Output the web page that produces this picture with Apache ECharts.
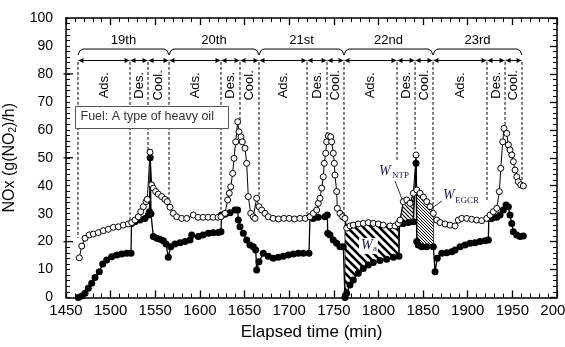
<!DOCTYPE html>
<html><head><meta charset="utf-8">
<script src="https://cdn.jsdelivr.net/npm/echarts@6/dist/echarts.min.js"></script>
<style>html,body{margin:0;padding:0;background:#fff}#c{width:565px;height:347px}</style>
</head><body><div id="c"></div>
<script>
// ---- data ----
const xTickValues = [1450,1500,1550,1600,1650,1700,1750,1800,1850,1900,1950,2000];
const xTickLabels = ['1450','1500','1550','1600','1650','1700','1750','1800','1850','1900','1950','2000'];
const yTickValues = [0,10,20,30,40,50,60,70,80,90,100];
const cycleNames = ['19th','20th','21st','22nd','23rd'];
const phaseNames = ['Ads.','Des.','Cool.'];
// phase boundaries (min)
const phaseBounds = [1463.4,1521.7,1541.9,1565.4,1623.6,1644.9,1666.2,1720.0,1742.4,1761.4,1820.8,1841.0,1861.1,1921.6,1941.8,1960.8];
// where each dashed boundary line ends (NOx value)
const dashEnds = [21.3,27,52,35,30,62,35.6,30,57,29.5,49,53,31.3,34.3,60.6,41];
// hatched areas [from, to] (min)
const hatchRanges = [[1762.5,1823.0],[1823.6,1839.1],[1842.9,1861.5]];
const leftMajorTicks = [20,50,80];

// open circles series  [time, NOx]
const openSeries = [
[1464.9,14.2],[1467.6,18.4],[1471.3,21.2],[1476.1,22.4],[1480.6,22.7],[1486.2,23.2],[1491.8,23.9],[1497.4,24.4],[1503.0,25.1],[1508.6,25.3],[1514.2,25.9],[1519.8,26.3],[1523.6,26.8],[1527.3,27.7],[1531.0,28.9],[1533.7,30.7],[1536.6,32.5],[1539.6,34.3],[1541.1,35.1],[1544.1,52.0],[1546.0,40.3],[1547.8,39.1],[1550.5,37.9],[1553.4,37.0],[1557.2,36.1],[1560.9,35.1],[1563.5,34.3],[1566.5,32.3],[1570.2,30.1],[1574.0,28.9],[1579.6,28.3],[1585.2,28.3],[1592.6,29.5],[1597.9,28.7],[1603.5,28.7],[1609.1,28.7],[1614.7,28.7],[1620.3,28.7],[1623.6,28.9],[1628.1,30.1],[1631.1,34.9],[1632.9,37.3],[1634.5,39.6],[1636.7,44.4],[1638.2,49.8],[1640.1,55.7],[1642.3,62.9],[1643.8,59.3],[1646.0,57.5],[1647.5,55.7],[1650.5,53.4],[1652.4,48.0],[1654.2,36.1],[1656.9,30.1],[1659.8,28.9],[1661.7,28.3],[1663.6,35.5],[1666.2,32.5],[1669.2,31.3],[1672.9,30.1],[1676.6,28.9],[1682.0,28.3],[1688.0,28.1],[1694.0,28.3],[1700.0,28.3],[1706.0,28.1],[1712.0,28.3],[1718.0,28.3],[1723.3,28.9],[1727.0,30.1],[1730.8,31.3],[1732.6,33.7],[1734.5,35.5],[1736.4,39.1],[1738.2,43.2],[1739.3,48.0],[1740.9,51.6],[1742.0,55.7],[1743.8,57.8],[1746.5,57.5],[1747.6,55.7],[1749.4,51.6],[1750.6,48.0],[1751.3,43.8],[1753.2,37.9],[1753.9,31.9],[1756.9,30.1],[1759.9,28.9],[1762.5,28.3],[1764.4,24.8],[1768.1,25.6],[1771.8,25.9],[1777.4,26.3],[1783.0,26.5],[1788.6,26.8],[1794.2,26.5],[1799.8,26.3],[1805.4,25.9],[1812.9,25.6],[1818.5,25.6],[1822.2,26.5],[1824.2,27.7],[1827.8,34.3],[1831.7,34.9],[1835.4,33.7],[1839.1,37.3],[1842.1,51.0],[1842.9,38.5],[1846.6,37.3],[1850.3,35.9],[1854.1,34.3],[1857.8,32.5],[1861.5,30.1],[1865.3,27.7],[1869.0,26.8],[1874.6,26.3],[1880.2,25.9],[1885.8,25.6],[1889.5,27.7],[1893.3,28.3],[1898.9,28.3],[1904.5,28.0],[1910.1,27.7],[1915.7,27.5],[1921.3,28.3],[1925.0,29.5],[1928.7,30.7],[1932.5,31.9],[1935.4,37.9],[1937.0,46.2],[1939.2,55.7],[1940.6,60.5],[1943.7,58.7],[1945.5,54.6],[1947.4,52.8],[1949.3,51.0],[1951.1,48.6],[1953.0,45.6],[1954.9,43.2],[1956.7,41.4],[1959.4,40.3],[1962.3,39.9]
];
// filled circles series [time, NOx]
const filledSeries = [
[1463.8,0],[1467.6,0.5],[1471.3,1.5],[1475.0,3.3],[1478.8,5.1],[1482.5,7.2],[1487.3,9.2],[1491.1,12.0],[1495.6,13.4],[1501.2,14.6],[1506.8,15.2],[1512.4,15.6],[1518.0,15.8],[1522.8,15.8],[1523.4,26.5],[1527.3,27.1],[1532.9,27.7],[1538.5,28.3],[1542.2,29.5],[1543.5,30.7],[1544.3,50.0],[1545.2,30.0],[1547.8,21.8],[1551.6,21.2],[1555.3,20.8],[1559.0,20.3],[1562.0,19.1],[1564.6,14.4],[1567.3,18.2],[1572.1,19.1],[1577.7,19.6],[1583.3,20.0],[1588.9,20.6],[1590.8,22.4],[1598.2,21.8],[1603.5,22.4],[1609.4,23.0],[1615.0,23.2],[1620.6,23.3],[1623.6,23.5],[1624.2,29.5],[1628.1,29.8],[1633.7,30.3],[1639.3,31.3],[1642.3,31.3],[1643.0,27.7],[1644.9,25.3],[1648.6,23.0],[1652.4,20.6],[1656.1,18.8],[1659.8,18.2],[1662.5,17.0],[1663.6,9.8],[1666.2,12.8],[1671.0,15.8],[1676.6,14.8],[1682.2,14.0],[1687.8,14.4],[1693.4,14.8],[1699.0,15.2],[1704.6,15.6],[1710.2,15.8],[1715.8,15.8],[1722.2,15.8],[1723.3,28.9],[1727.0,28.3],[1732.6,28.7],[1740.1,28.9],[1742.7,29.5],[1743.2,23.0],[1745.7,22.4],[1749.4,20.6],[1753.2,19.4],[1756.9,18.2],[1760.6,18.2],[1762.5,0],[1764.4,1.5],[1768.1,4.5],[1771.8,6.3],[1777.4,8.7],[1783.0,10.4],[1788.6,11.6],[1794.2,12.5],[1801.7,13.2],[1809.2,13.7],[1816.7,14.4],[1823.0,14.8],[1823.6,26.5],[1827.8,26.5],[1833.5,26.8],[1839.1,27.1],[1842.1,48.0],[1842.9,20.0],[1844.6,18.8],[1848.4,18.2],[1854.1,18.2],[1861.5,18.2],[1863.4,9.2],[1865.9,14.0],[1870.9,15.8],[1876.5,16.0],[1882.1,16.4],[1885.8,17.0],[1891.4,18.2],[1897.0,18.8],[1902.6,19.4],[1908.2,19.6],[1913.8,20.0],[1919.4,20.3],[1923.1,20.6],[1923.6,28.3],[1926.9,28.3],[1932.5,28.7],[1936.2,29.5],[1939.9,31.3],[1942.9,33.1],[1945.5,32.5],[1947.4,29.5],[1949.3,26.5],[1951.1,23.5],[1954.9,22.4],[1958.6,21.8],[1962.3,22.0]
];

// ---- helpers ----
function makeHatch(s, w) {
  const c = document.createElement('canvas');
  c.width = s; c.height = s;
  const g = c.getContext('2d');
  g.strokeStyle = '#000'; g.lineWidth = w; g.lineCap = 'square';
  g.beginPath();
  for (let k = -1; k <= 1; k++) { g.moveTo(0, k * s); g.lineTo(s, s + k * s); }
  g.stroke();
  return c;
}
const hatchStyles = [makeHatch(8, 2.6), makeHatch(4, 1.1), makeHatch(3, 1)];

const FONT = '"Liberation Sans", Arial, sans-serif';
const SERIF = '"Liberation Serif", "Times New Roman", serif';

const chart = echarts.init(document.getElementById('c'), null, {renderer: 'canvas'});

function axisCommon(extra) {
  return Object.assign({
    type: 'value',
    axisLine: {show: true, onZero: false, lineStyle: {color: '#000', width: 1.5}},
    axisTick: {show: true, inside: true, length: 7, lineStyle: {color: '#000', width: 1.3}},
    minorTick: {show: true, splitNumber: 5, length: 4, lineStyle: {color: '#000', width: 1}},
    splitLine: {show: false},
    minorSplitLine: {show: false}
  }, extra);
}

const option = {
  animation: false,
  backgroundColor: '#fff',
  grid: {left: 66, right: 8, top: 18, bottom: 49.5, containLabel: false, outerBoundsMode: 'none'},
  xAxis: [
    axisCommon({
      min: xTickValues[0], max: xTickValues[xTickValues.length - 1], interval: 50, position: 'bottom',
      axisLabel: {color: '#000', fontSize: 15, fontFamily: FONT, margin: 6, showMinLabel: true, showMaxLabel: true,
        alignMinLabel: 'center', alignMaxLabel: 'center', hideOverlap: false,
        formatter: v => { const i = xTickValues.indexOf(v); return i >= 0 ? xTickLabels[i] : ''; }},
      name: 'Elapsed time (min)', nameLocation: 'middle', nameGap: 24,
      nameTextStyle: {color: '#000', fontSize: 17, fontFamily: FONT}
    }),
    axisCommon({
      min: xTickValues[0], max: xTickValues[xTickValues.length - 1], interval: 50, position: 'top',
      axisLabel: {show: false}
    })
  ],
  yAxis: [
    axisCommon({
      min: yTickValues[0], max: yTickValues[yTickValues.length - 1], interval: 10, position: 'left',
      axisTick: {show: true, inside: true, length: 4, lineStyle: {color: '#000', width: 1}},
      axisLabel: {color: '#000', fontSize: 14, fontFamily: FONT, margin: 13,
        formatter: v => String(v)},
      name: 'NOx (g(NO{s|2})/h)', nameLocation: 'middle', nameGap: 36,
      nameTextStyle: {color: '#000', fontSize: 16, fontFamily: FONT,
        rich: {s: {fontSize: 10, fontFamily: FONT, color: '#000', verticalAlign: 'bottom', padding: [8, 0, 0, 0]}}}
    }),
    axisCommon({
      min: yTickValues[0], max: yTickValues[yTickValues.length - 1], interval: 10, position: 'right',
      axisLabel: {show: false}
    })
  ],
  graphic: [
    {type: 'rect', left: 75, top: 106, z: 100, shape: {width: 153, height: 22},
      style: {fill: '#fff', stroke: '#555', lineWidth: 1}},
    {type: 'text', left: 80.5, top: 110.5, z: 101,
      style: {text: 'Fuel: A type of heavy oil', font: '12.5px ' + FONT, fill: '#333'}},
    // W labels
    {type: 'rect', left: 359, top: 238, z: 100, shape: {width: 19, height: 16}, style: {fill: '#fff'}},
    {type: 'text', left: 361, top: 238, z: 101, style: {text: 'W', font: 'italic 14px ' + SERIF, fill: '#1a1a40'}},
    {type: 'text', left: 373, top: 244, z: 101, style: {text: 'a', font: '9px ' + SERIF, fill: '#1a1a40'}},
    {type: 'text', left: 379, top: 164, z: 101, style: {text: 'W', font: 'italic 14px ' + SERIF, fill: '#1a1a40'}},
    {type: 'text', left: 392, top: 171, z: 101, style: {text: 'NTP', font: '9px ' + SERIF, fill: '#1a1a40'}},
    {type: 'text', left: 443, top: 188, z: 101, style: {text: 'W', font: 'italic 14px ' + SERIF, fill: '#1a1a40'}},
    {type: 'text', left: 455, top: 196, z: 101, style: {text: 'EGCR', font: '9px ' + SERIF, fill: '#1a1a40'}},
    {type: 'line', z: 101, shape: {x1: 395, y1: 181, x2: 402, y2: 199}, style: {stroke: '#000', lineWidth: 0.8}},
    {type: 'line', z: 101, shape: {x1: 442, y1: 201, x2: 432, y2: 208}, style: {stroke: '#000', lineWidth: 0.8}}
  ],
  series: [
    {
      type: 'custom', name: 'hatch', z: 1, silent: true,
      data: hatchRanges.map((r, i) => [r[0], 0, i]),
      encode: {x: 0, y: 1},
      renderItem: function (params, api) {
        const i = params.dataIndex;
        const a = hatchRanges[i][0], b = hatchRanges[i][1];
        const top = openSeries.filter(p => p[0] >= a && p[0] <= b).map(p => api.coord(p));
        const bot = filledSeries.filter(p => p[0] >= a && p[0] <= b).map(p => api.coord(p)).reverse();
        return {
          type: 'polygon',
          shape: {points: top.concat(bot)},
          style: {fill: {image: hatchStyles[i], repeat: 'repeat'}, stroke: '#000', lineWidth: 0.8}
        };
      }
    },
    {
      type: 'custom', name: 'annot', z: 2, silent: true,
      data: [[1450, 0]],
      encode: {x: 0, y: 1},
      renderItem: function (params, api) {
        const X = t => api.coord([t, 0])[0];
        const Y = v => api.coord([1450, v])[1];
        const ch = [];
        const yArrow = Y(84.8);
        const yDashTop = Y(84.3);
        const yBr = Y(88.9);
        phaseBounds.forEach((b, i) => {
          ch.push({type: 'line', shape: {x1: X(b), y1: yDashTop, x2: X(b), y2: Y(dashEnds[i])},
            style: {stroke: '#000', lineWidth: 1, lineDash: [3, 2]}});
        });
        for (let j = 0; j < phaseBounds.length - 1; j++) {
          const xa = X(phaseBounds[j]) + 0.5, xb = X(phaseBounds[j + 1]) - 0.5;
          ch.push({type: 'line', shape: {x1: xa, y1: yArrow, x2: xb, y2: yArrow}, style: {stroke: '#000', lineWidth: 1}});
          ch.push({type: 'polygon', shape: {points: [[xa, yArrow], [xa + 5, yArrow - 2.6], [xa + 5, yArrow + 2.6]]}, style: {fill: '#000'}});
          ch.push({type: 'polygon', shape: {points: [[xb, yArrow], [xb - 5, yArrow - 2.6], [xb - 5, yArrow + 2.6]]}, style: {fill: '#000'}});
          const ph = phaseNames[j % 3];
          ch.push({type: 'text', x: (xa + xb) / 2, y: Y(75.9), rotation: Math.PI / 2,
            style: {text: ph, font: '13px ' + FONT, fill: '#000', align: 'center', verticalAlign: 'middle', textAlign: 'center', textVerticalAlign: 'middle'}});
        }
        for (let c = 0; c < cycleNames.length; c++) {
          const xa = X(phaseBounds[3 * c]), xb = X(phaseBounds[3 * c + 3]);
          ch.push({type: 'polyline', shape: {points: [[xa, yBr + 6], [xa + 2, yBr + 1.5], [xa + 5, yBr], [xb - 5, yBr], [xb - 2, yBr + 1.5], [xb, yBr + 6]]},
            style: {stroke: '#000', lineWidth: 1, fill: null}});
          ch.push({type: 'text', x: (xa + xb) / 2, y: Y(92.1),
            style: {text: cycleNames[c], font: '13px ' + FONT, fill: '#000', align: 'center', verticalAlign: 'middle', textAlign: 'center', textVerticalAlign: 'middle'}});
        }
        leftMajorTicks.forEach(v => {
          const x0 = X(1450), y0 = Y(v);
          ch.push({type: 'line', shape: {x1: x0 - 2.5, y1: y0, x2: x0 + 7, y2: y0}, style: {stroke: '#000', lineWidth: 1.3}});
        });
        return {type: 'group', children: ch};
      }
    },
    {
      type: 'line', name: 'filled', z: 3,
      data: filledSeries,
      symbol: 'circle', symbolSize: 7, showAllSymbol: true,
      itemStyle: {color: '#000'},
      lineStyle: {color: '#000', width: 1.3},
      emphasis: {disabled: true}
    },
    {
      type: 'line', name: 'open', z: 4,
      data: openSeries,
      symbol: 'circle', symbolSize: 6, showAllSymbol: true,
      itemStyle: {color: '#fff', borderColor: '#000', borderWidth: 1},
      lineStyle: {color: '#000', width: 1},
      emphasis: {disabled: true}
    }
  ]
};
chart.setOption(option);
</script>
</body></html>
